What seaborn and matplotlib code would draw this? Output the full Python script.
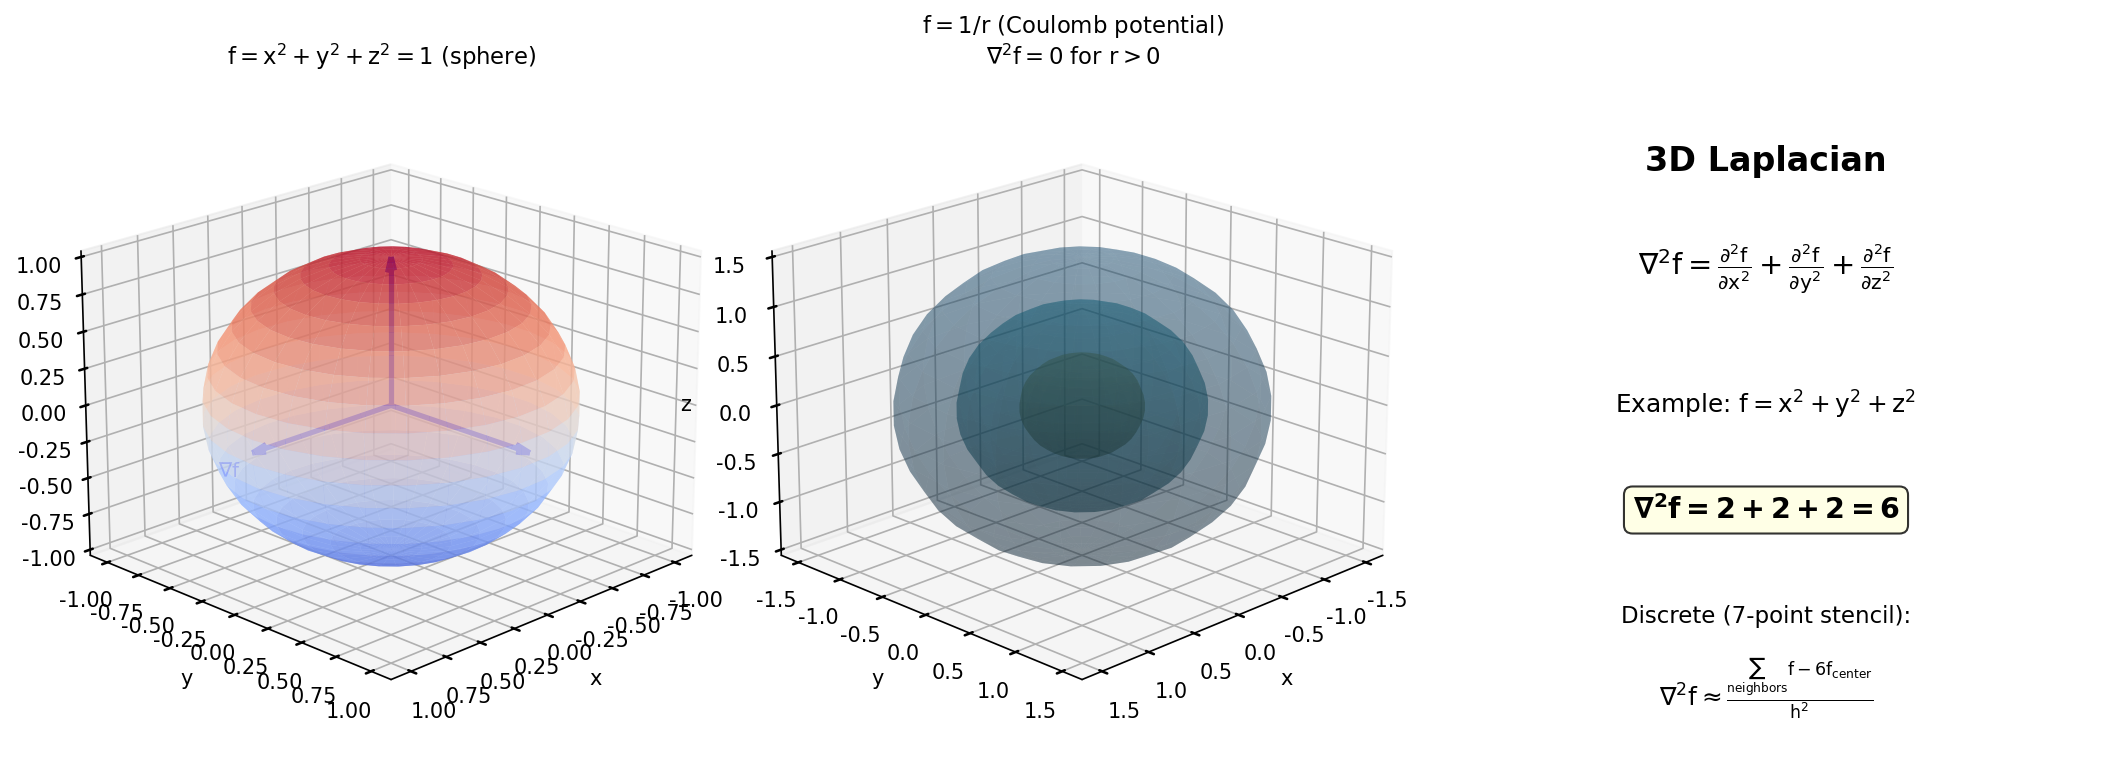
import numpy as np
import matplotlib
matplotlib.use("Agg")
import matplotlib.pyplot as plt
import seaborn as sns

# sphere panel
sphere_radius = 1.0
sphere_ticks = [-1.0, -0.75, -0.5, -0.25, 0.0, 0.25, 0.5, 0.75, 1.0]
arrow_tips = [[1.0, 0.0, 0.0], [0.0, 1.0, 0.0], [0.0, 0.0, 1.0]]

# coulomb panel
shell_radii = [1.5, 1.0, 0.5]
shell_colours = ["#205a82", "#007a90", "#d2a51e"]
shell_alpha = [0.3, 0.3, 0.3]
coulomb_ticks = [-1.5, -1.0, -0.5, 0.0, 0.5, 1.0, 1.5]

sns.set_theme(style="ticks", font="DejaVu Sans", rc={
    "mathtext.default": "regular",
    "axes.unicode_minus": False,
    "text.color": "black",
    "axes.labelcolor": "black",
    "axes.edgecolor": "black",
    "xtick.color": "black",
    "ytick.color": "black",
    "grid.color": "#b0b0b0",
    "grid.linewidth": 0.8,
    "axes.linewidth": 0.8,
    "axes.grid": True,
    "xtick.labelsize": 10,
    "ytick.labelsize": 10,
    "axes.labelsize": 10,
    "patch.force_edgecolor": False,
    "patch.edgecolor": "black",
})


def sphere(r, n_u=30, n_v=20):
    u = np.linspace(0, 2 * np.pi, n_u)
    v = np.linspace(0, np.pi, n_v)
    x = r * np.outer(np.cos(u), np.sin(v))
    y = r * np.outer(np.sin(u), np.sin(v))
    z = r * np.outer(np.ones_like(u), np.cos(v))
    return x, y, z


def fmt_ticks(ax, ticks, fmt):
    for axis in (ax.xaxis, ax.yaxis, ax.zaxis):
        axis.set_ticks(ticks)
        axis.set_ticklabels([fmt % t for t in ticks])


W, H = 2116, 774
fig = plt.figure(figsize=(W / 150, H / 150), dpi=150)
side = 0.867
bottom = (H - 414.5 - side * H / 2) / H
ax1 = fig.add_axes([382 / W - side * H / W / 2, bottom, side * H / W, side], projection="3d")
ax2 = fig.add_axes([1073 / W - side * H / W / 2, bottom, side * H / W, side], projection="3d")
ax3 = fig.add_axes([1500 / W, 0, 530 / W, 1])

# left panel: unit sphere coloured by z, arrows stay under the surface
ax1.computed_zorder = False
coolwarm = sns.color_palette("coolwarm", as_cmap=True)
X, Y, Z = sphere(sphere_radius)
ax1.plot_surface(X, Y, Z, facecolors=coolwarm((Z + 1) / 2), alpha=0.6, linewidth=0,
                 shade=False, zorder=5)
for tip in arrow_tips:
    ax1.quiver(0, 0, 0, tip[0], tip[1], tip[2], color="blue", linewidth=2.5,
               arrow_length_ratio=0.1, zorder=4)
ax1.text(1.24, 0.0, -0.08, r"$\nabla f$", color="blue", fontsize=9.5)
ax1.set_xlim(-1.14, 1.14)
ax1.set_ylim(-1.14, 1.14)
ax1.set_zlim(-1.04, 1.04)
fmt_ticks(ax1, sphere_ticks, "%.2f")
ax1.set_xlabel("x")
ax1.set_ylabel("y")
ax1.view_init(elev=20, azim=45)
ax1.set_title(r"$f = x^2 + y^2 + z^2 = 1$ (sphere)", fontsize=10.9, y=1.09)

# middle panel: equipotential shells
for r, c, a in zip(shell_radii, shell_colours, shell_alpha):
    X, Y, Z = sphere(r, 20, 20)
    ax2.plot_surface(X, Y, Z, color=c, alpha=a, linewidth=0)
ax2.set_xlim(-1.71, 1.71)
ax2.set_ylim(-1.71, 1.71)
ax2.set_zlim(-1.56, 1.56)
fmt_ticks(ax2, coulomb_ticks, "%.1f")
ax2.set_xlabel("x")
ax2.set_ylabel("y")
ax2.set_zlabel("z")
ax2.view_init(elev=20, azim=45)
ax2.set_title("$f = 1/r$ (Coulomb potential)\n$\\nabla^2 f = 0$ for $r > 0$", fontsize=10.9, y=1.09)

# right panel: text only
ax3.axis("off")
ax3.set_xlim(0, 530)
ax3.set_ylim(774, 0)
cx = 1766 - 1500
ax3.text(cx, 162, "3D Laplacian", fontsize=16, fontweight="bold", ha="center", va="center")
ax3.text(cx, 269, r"$\nabla^2 f = \frac{\partial^2 f}{\partial x^2} + \frac{\partial^2 f}{\partial y^2} + \frac{\partial^2 f}{\partial z^2}$",
         fontsize=13.9, ha="center", va="center")
ax3.text(cx, 405, r"Example: $f = x^2 + y^2 + z^2$", fontsize=11.9, ha="center", va="center")
ax3.text(cx, 510, r"$\mathbf{\nabla^2 f = 2 + 2 + 2 = 6}$", fontsize=13.7, fontweight="bold",
         ha="center", va="center",
         bbox=dict(boxstyle="round", facecolor="lightyellow", edgecolor="black", alpha=0.8))
ax3.text(cx, 616, "Discrete (7-point stencil):", fontsize=11, ha="center", va="center")
ax3.text(cx, 688, r"$\nabla^2 f \approx \frac{\sum_{neighbors} f - 6f_{center}}{h^2}$",
         fontsize=11.9, ha="center", va="center")

fig.savefig("out.png", dpi=150)
